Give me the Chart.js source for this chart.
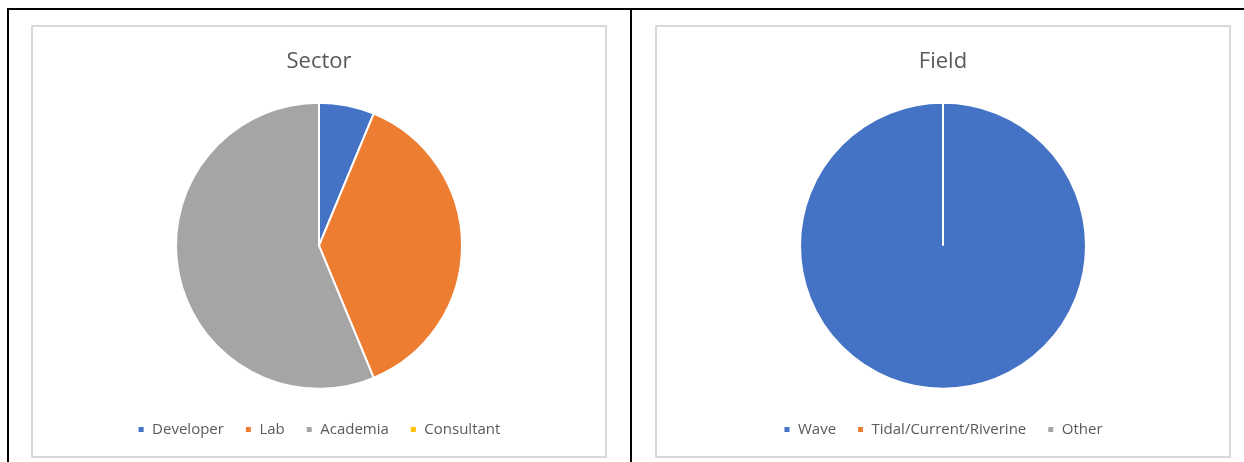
<!DOCTYPE html>
<html>
<head>
<meta charset="utf-8">
<script src="https://cdn.jsdelivr.net/npm/chart.js@4.4.0/dist/chart.umd.min.js"></script>
<style>
  body { margin: 0; background: #fff; width: 1244px; height: 462px; position: relative; overflow: hidden; }
  .frame { position: absolute; left: 7px; top: 8px; width: 1250px; height: 470px; border-top: 2px solid #000; border-left: 2px solid #000; }
  .divider { position: absolute; left: 630px; top: 8px; width: 2px; height: 460px; background: #000; }
  .box { position: absolute; top: 25px; width: 572px; height: 429px; border: 2px solid #d9d9d9; }
  .box canvas { display: block; }
</style>
</head>
<body>
<div class="frame"></div>
<div class="divider"></div>
<div class="box" style="left:31px"><canvas id="sectorChart" width="572" height="429"></canvas></div>
<div class="box" style="left:655px"><canvas id="fieldChart" width="572" height="429"></canvas></div>
<script>
// sector breakdown (counts)
const sectorLabels = ['Developer', 'Lab', 'Academia', 'Consultant'];
const sectorValues = [1, 6, 9, 0];
const sectorColors = ['#4472C4', '#ED7D31', '#A5A5A5', '#FFC000'];

// field breakdown (counts)
const fieldLabels = ['Wave', 'Tidal/Current/Riverine', 'Other'];
const fieldValues = [16, 0, 0];
const fieldColors = ['#4472C4', '#ED7D31', '#A5A5A5'];

Chart.defaults.font.family = '"Open Sans", sans-serif';
Chart.defaults.color = '#595959';

function makePie(id, title, labels, values, colors) {
  const ctx = document.getElementById(id);
  return new Chart(ctx, {
    type: 'pie',
    data: {
      labels: labels,
      datasets: [{
        data: values,
        backgroundColor: colors,
        borderColor: '#ffffff',
        borderWidth: 2,
      }],
    },
    options: {
      responsive: false,
      animation: false,
      radius: 143,
      layout: { padding: { bottom: 9 } },
      plugins: {
        title: {
          display: true,
          text: title,
          color: '#595959',
          font: { size: 22, weight: 'normal' },
          padding: { top: 22, bottom: 15 },
        },
        legend: {
          position: 'bottom',
          labels: {
            usePointStyle: true,
            pointStyle: 'rect',
            boxWidth: 7,
            boxHeight: 7,
            padding: 21,
            color: '#595959',
            font: { size: 15 },
          },
        },
        tooltip: { enabled: false },
      },
    },
  });
}

makePie('sectorChart', 'Sector', sectorLabels, sectorValues, sectorColors);
makePie('fieldChart', 'Field', fieldLabels, fieldValues, fieldColors);
</script>
</body>
</html>
